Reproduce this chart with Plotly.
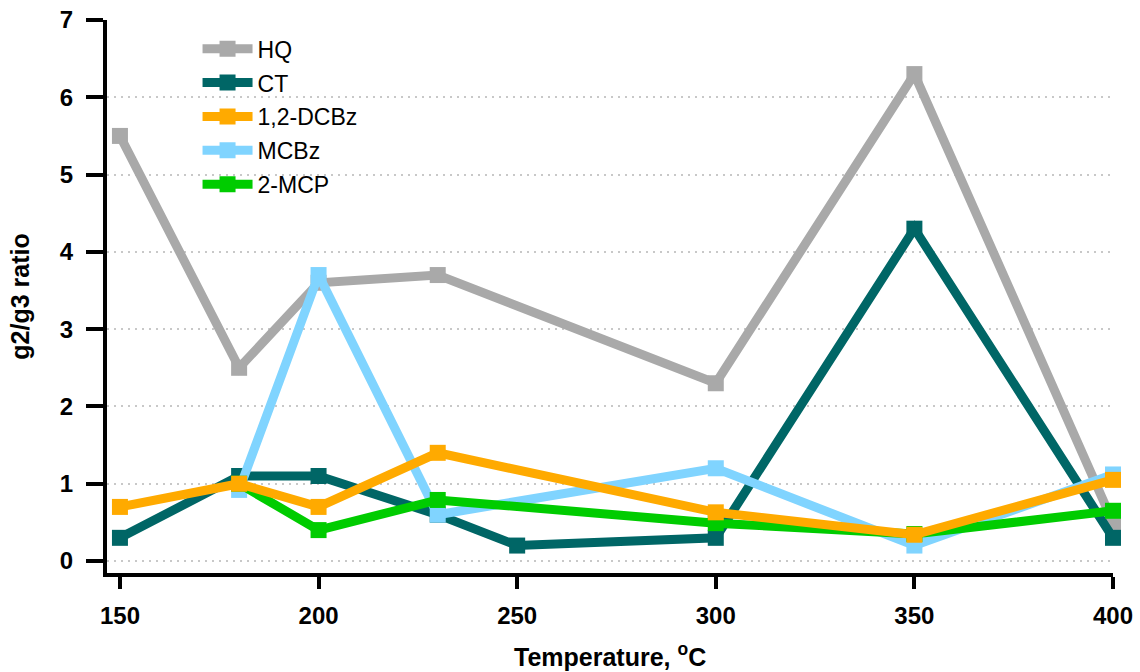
import plotly.graph_objects as go

# g2/g3 ratio versus temperature for each compound
hq_t = [150, 180, 200, 230, 300, 350, 400]
hq_v = [5.5, 2.5, 3.6, 3.7, 2.3, 6.3, 0.5]

ct_t = [150, 180, 200, 230, 250, 300, 350, 400]
ct_v = [0.3, 1.1, 1.1, 0.6, 0.2, 0.3, 4.3, 0.3]

dcbz_t = [150, 180, 200, 230, 300, 350, 400]
dcbz_v = [0.7, 1.0, 0.7, 1.4, 0.63, 0.34, 1.05]

mcbz_t = [180, 200, 230, 300, 350, 400]
mcbz_v = [0.92, 3.7, 0.6, 1.2, 0.2, 1.12]

mcp_t = [180, 200, 230, 300, 350, 400]
mcp_v = [1.0, 0.4, 0.79, 0.49, 0.35, 0.65]

x_ticks = [150, 200, 250, 300, 350, 400]
y_ticks = [0, 1, 2, 3, 4, 5, 6, 7]

series = [
    # name, x, y, colour, legend rank (draw order differs from legend order)
    ("HQ", hq_t, hq_v, "#A9A9A9", 1),
    ("CT", ct_t, ct_v, "#006666", 2),
    ("MCBz", mcbz_t, mcbz_v, "#80D4FF", 4),
    ("2-MCP", mcp_t, mcp_v, "#00CC00", 5),
    ("1,2-DCBz", dcbz_t, dcbz_v, "#FFAA00", 3),
]

fig = go.Figure()
for name, xs, ys, color, rank in series:
    fig.add_trace(go.Scatter(
        x=xs, y=ys, name=name, mode="lines+markers",
        line=dict(color=color, width=9),
        marker=dict(symbol="square", size=16, color=color),
        legendrank=rank, legendgroup=name, cliponaxis=False,
    ))

font_family = "Liberation Sans, Arial, sans-serif"

fig.update_layout(
    width=1140, height=672,
    margin=dict(l=107, r=27, t=20, b=99, autoexpand=False),
    plot_bgcolor="white", paper_bgcolor="white",
    font=dict(family=font_family, color="black"),
    showlegend=True,
    legend=dict(
        x=0.09, y=0.987, xanchor="left", yanchor="top",
        bgcolor="rgba(0,0,0,0)", font=dict(size=23, family=font_family),
        tracegroupgap=1, itemwidth=50,
    ),
    xaxis=dict(
        range=[146.74, 400], tickvals=x_ticks, automargin=False,
        showline=True, linecolor="black", linewidth=4,
        ticks="outside", ticklen=12, tickwidth=4, tickcolor="black",
        showgrid=False, zeroline=False,
        tickfont=dict(size=24, family=font_family, weight="bold"),
        ticklabelstandoff=6,
    ),
    yaxis=dict(
        range=[-0.155, 7], tickvals=y_ticks, automargin=False,
        showline=True, linecolor="black", linewidth=4,
        ticks="outside", ticklen=17, tickwidth=4, tickcolor="black",
        showgrid=True, gridcolor="#c8c8c8", gridwidth=1.5, griddash="2px,5px",
        zeroline=False,
        tickfont=dict(size=24, family=font_family, weight="bold"),
        ticklabelstandoff=8,
        title=dict(text="g2/g3 ratio",
                   font=dict(size=25, family=font_family, weight="bold"),
                   standoff=24),
    ),
    annotations=[dict(
        text="Temperature, <sup>o</sup>C", xref="paper", yref="paper",
        x=0.5, y=-0.148, xanchor="center", yanchor="middle", showarrow=False,
        font=dict(size=25, family=font_family, weight="bold"),
    )],
)

fig.write_html("out.html")
